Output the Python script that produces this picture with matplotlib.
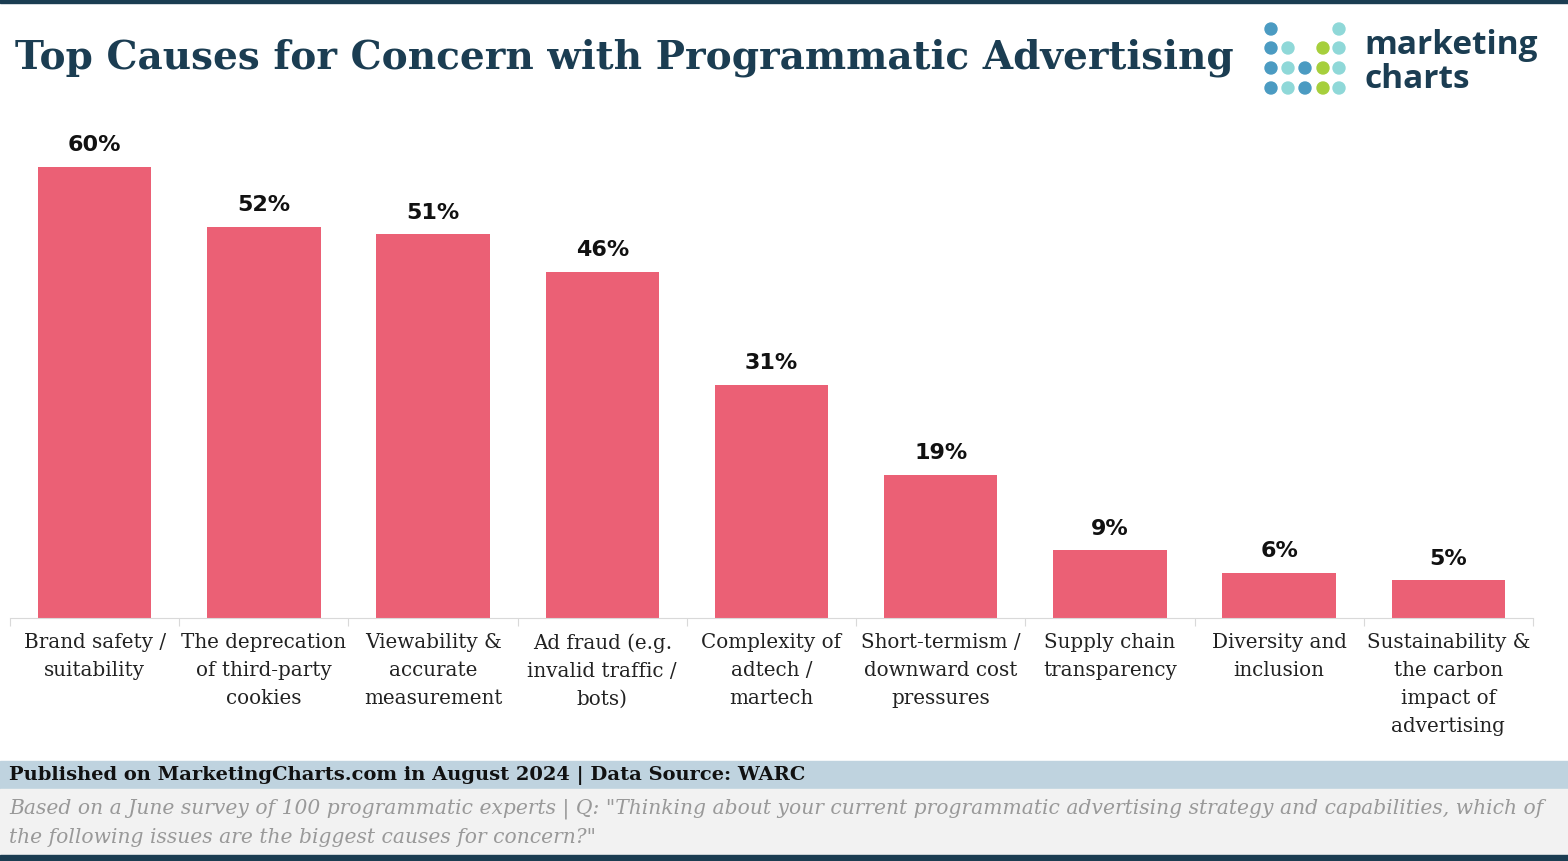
import matplotlib.pyplot as plt
from matplotlib.patches import Rectangle, Ellipse

W, H = 1568, 862

categories = [
    "Brand safety /\nsuitability",
    "The deprecation\nof third-party\ncookies",
    "Viewability &\naccurate\nmeasurement",
    "Ad fraud (e.g.\ninvalid traffic /\nbots)",
    "Complexity of\nadtech /\nmartech",
    "Short-termism /\ndownward cost\npressures",
    "Supply chain\ntransparency",
    "Diversity and\ninclusion",
    "Sustainability &\nthe carbon\nimpact of\nadvertising",
]
values = [60, 52, 51, 46, 31, 19, 9, 6, 5]

title = "Top Causes for Concern with Programmatic Advertising"
source_line = "Published on MarketingCharts.com in August 2024 | Data Source: WARC"
note_line = ('Based on a June survey of 100 programmatic experts | Q: "Thinking about your current '
             'programmatic advertising strategy and capabilities, which of\nthe following issues are '
             'the biggest causes for concern?"')

dark = "#1b3d52"
bar_color = "#eb6075"
serif = ["DejaVu Serif"]


def fx(x):
    return x / W


def fy(y):
    return 1 - y / H


fig = plt.figure(figsize=(W / 100, H / 100), dpi=100)

# axes in pixel coords: left 10, right 1533, top 120, bottom 619
ax = fig.add_axes([fx(10), fy(619), (1533 - 10) / W, (619 - 120) / H])
x = range(len(values))
bars = ax.bar(x, values, width=0.67, color=bar_color, zorder=2)
ax.set_xlim(-0.5, len(values) - 0.5)
ax.set_ylim(0, (619 - 120) / 7.52)
for b, v in zip(bars, values):
    ax.text(b.get_x() + b.get_width() / 2, v + 1.7, f"{v}%", ha="center", va="bottom",
            fontsize=16, fontweight="bold", family=["DejaVu Sans"], color="#111111")
for s in ["top", "right", "left"]:
    ax.spines[s].set_visible(False)
ax.spines["bottom"].set_color("#d9d9d9")
ax.set_yticks([])
ax.set_xticks([i + 0.5 for i in range(-1, len(values))], minor=False)
ax.tick_params(axis="x", length=6, color="#d9d9d9", labelbottom=False)
for i, c in enumerate(categories):
    ax.text(i, -1.9, c, ha="center", va="top", fontsize=14.3, family=serif,
            color="#222222", linespacing=1.6)

# top rule and title
fig.add_artist(Rectangle((0, fy(4)), 1, 4 / H, transform=fig.transFigure, color=dark))
fig.text(fx(15), fy(58), title, ha="left", va="center", fontsize=28.1, fontweight="bold",
         family=serif, color=dark)

# logo
dot_x = [1271, 1288, 1305, 1323, 1339]
dot_y = [30, 49, 69, 89]
blue, teal, green = "#4b9bc2", "#8fd8d8", "#a6cf3c"
grid = [
    [blue, None, None, None, teal],
    [blue, teal, None, green, teal],
    [blue, teal, blue, green, teal],
    [blue, teal, blue, green, teal],
]
for r, row in enumerate(grid):
    for c, col in enumerate(row):
        if col:
            fig.add_artist(Ellipse((fx(dot_x[c]), fy(dot_y[r])), 12 / W, 12 / H,
                                   transform=fig.transFigure, color=col))
fig.text(fx(1364), fy(45), "marketing", ha="left", va="center", fontsize=24,
         fontweight="bold", color=dark, family=["Open Sans"])
fig.text(fx(1364), fy(79), "charts", ha="left", va="center", fontsize=24,
         fontweight="bold", color=dark, family=["Open Sans"])

# footer
fig.add_artist(Rectangle((0, fy(790)), 1, 28 / H, transform=fig.transFigure, color="#bfd3df"))
fig.add_artist(Rectangle((0, fy(856)), 1, 66 / H, transform=fig.transFigure, color="#f2f2f2"))
fig.add_artist(Rectangle((0, 0), 1, 6 / H, transform=fig.transFigure, color=dark))
fig.text(fx(9), fy(776), source_line, ha="left", va="center", fontsize=14, fontweight="bold",
         family=["DejaVu Serif Condensed", "DejaVu Serif"], color="#111111")
fig.text(fx(9), fy(823), note_line, ha="left", va="center", fontsize=14.6, style="italic",
         family=["DejaVu Serif Condensed", "DejaVu Serif"], color="#999999", linespacing=1.6)

fig.savefig("out.png", dpi=100)
